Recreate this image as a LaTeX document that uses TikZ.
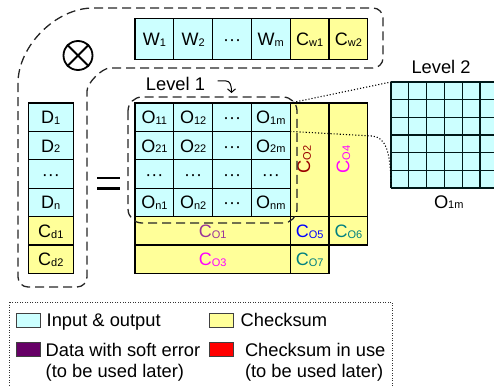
\documentclass[tikz,border=0pt]{standalone}
\usepackage{fontspec}
\setmainfont{Liberation Sans}
\usetikzlibrary{positioning,arrows.meta}

\definecolor{iocol}{HTML}{CCFFFF}
\definecolor{chkcol}{HTML}{FFFF99}
\definecolor{errcol}{HTML}{660066}
\definecolor{usecol}{HTML}{FF0000}
\definecolor{cofirst}{HTML}{993399}
\definecolor{cosecond}{HTML}{990000}
\definecolor{cothird}{HTML}{FF00FF}
\definecolor{cofifth}{HTML}{0000FF}
\definecolor{coteal}{HTML}{008080}

\newcommand{\idx}[1]{\raisebox{-0.8pt}{\fontsize{11}{11}\selectfont #1}}

\tikzset{
  cell/.style={draw, line width=1.1pt, inner sep=0pt, outer sep=0pt,
    minimum width=38.8pt, minimum height=28.4pt,
    text height=12.9pt, text depth=0pt, font=\fontsize{18}{20}\selectfont},
  io/.style={cell, fill=iocol},
  chk/.style={cell, fill=chkcol},
  wcell/.style={minimum height=40.8pt},
  dcell/.style={minimum width=45pt},
  dashbox/.style={line width=1.3pt, dash pattern=on 9pt off 5pt, black!85},
  dotline/.style={line width=1.1pt, dash pattern=on 1.1pt off 2pt},
  lbl/.style={inner sep=0pt, outer sep=0pt, font=\fontsize{18.3}{20}\selectfont},
  swatch/.style={draw=black!75, line width=1pt, minimum width=24pt, minimum height=14.5pt, inner sep=0pt},
}

\begin{document}
\begin{tikzpicture}[x=1pt,y=-1pt]
\useasboundingbox (0,0) rectangle (494,385);

% outer dashed region
\draw[dashbox, rounded corners=10pt] (18,200) -- (18,93) .. controls (18,46) and (56,8) .. (103,8)
  -- (383,8) -- (383,68) -- (120,68) .. controls (102,68) and (87,83) .. (87,101)
  -- (87,287) -- (18,287) -- cycle;

% otimes
\node[circle, draw, line width=1.8pt, minimum size=29pt, inner sep=0pt] (prod) at (78,55.5) {};
\draw[line width=1.8pt] (prod.45) -- (prod.225) (prod.135) -- (prod.315);

% weight row
\node[io, wcell] (w1) at (154.4,38.8) {W\idx{1}};
\node[io, wcell, right=0pt of w1] (w2) {W\idx{2}};
\node[io, wcell, right=0pt of w2] (wdots) {···};
\node[io, wcell, right=0pt of wdots] (wm) {W\idx{m}};
\node[chk, wcell, right=0pt of wm] (cw1) {C\idx{w1}};
\node[chk, wcell, right=0pt of cw1] (cw2) {C\idx{w2}};

% data column
\node[io, dcell] (d1) at (50.8,117.2) {D\idx{1}};
\node[io, dcell, below=0pt of d1] (d2) {D\idx{2}};
\node[io, dcell, below=0pt of d2] (ddots) {···};
\node[io, dcell, below=0pt of ddots] (dn) {D\idx{n}};
\node[chk, dcell, below=0pt of dn] (cd1) {C\idx{d1}};
\node[chk, dcell, below=0pt of cd1] (cd2) {C\idx{d2}};

% equals
\draw[line width=2.8pt] (97,178) -- (120,178) (97,188.5) -- (120,188.5);

% output block
\node[io] (o11) at (154.4,117.2) {O\idx{11}};
\node[io, right=0pt of o11] (o12) {O\idx{12}};
\node[io, right=0pt of o12] (o1d) {···};
\node[io, right=0pt of o1d] (o1m) {O\idx{1m}};
\node[io, below=0pt of o11] (o21) {O\idx{21}};
\node[io, right=0pt of o21] (o22) {O\idx{22}};
\node[io, right=0pt of o22] (o2d) {···};
\node[io, right=0pt of o2d] (o2m) {O\idx{2m}};
\node[io, below=0pt of o21] (od1) {···};
\node[io, right=0pt of od1] (od2) {···};
\node[io, right=0pt of od2] (odd) {···};
\node[io, right=0pt of odd] (odm) {···};
\node[io, below=0pt of od1] (on1) {O\idx{n1}};
\node[io, right=0pt of on1] (on2) {O\idx{n2}};
\node[io, right=0pt of on2] (ond) {···};
\node[io, right=0pt of ond] (onm) {O\idx{nm}};

% output checksums
\node[chk, minimum height=113.6pt, anchor=north west] (co2) at (o1m.north east) {};
\node[chk, minimum height=113.6pt, anchor=north west] (co4) at (co2.north east) {};
\node[lbl, rotate=90, anchor=base, text=cosecond] (co2txt) at ([xshift=0.5pt]co2.center) {C\idx{O2}};
\node[lbl, rotate=90, anchor=base, text=cothird] (co4txt) at ([xshift=1pt]co4.center) {C\idx{O4}};
\node[chk, minimum width=155.2pt, anchor=north west, text=cofirst] (co1) at (on1.south west) {C\idx{O1}};
\node[chk, anchor=north west, text=cofifth] (co5) at (co1.north east) {C\idx{O5}};
\node[chk, anchor=north west, text=coteal] (co6) at (co5.north east) {C\idx{O6}};
\node[chk, minimum width=155.2pt, anchor=north west, text=cothird] (co3) at (co1.south west) {C\idx{O3}};
\node[chk, anchor=north west, text=coteal] (co7) at (co3.north east) {C\idx{O7}};

% level 1
\draw[dashbox, rounded corners=14pt] (128,97) rectangle (297,223);
\node[lbl, anchor=base] (lvl1) at (175.5,90) {Level 1};
\coordinate (lvl1tip) at (231.5,93);
\draw[line width=1pt, -{Straight Barb[length=3.5pt,width=8pt]}] ([xshift=12.5pt,yshift=2.5pt]lvl1.east)
  -- (226,81) .. controls (230,81) and (231.5,85) .. (lvl1tip);

% level 2
\fill[iocol] (391,82) rectangle (500,188);
\foreach \i in {0,...,6}
  \draw[line width=1.2pt, black!80!teal] ({391+17.8*\i},82) -- ({391+17.8*\i},188);
\foreach \j in {0,...,6}
  \draw[line width=1.2pt, black!80!teal] (391,{82+17.667*\j}) -- (500,{82+17.667*\j});
\coordinate (l2nw) at (391,82);
\coordinate (l2sw) at (391,188);
\node[lbl, anchor=base] (lvl2) at (441,74) {Level 2};
\node[lbl, anchor=base west] (o1mlbl) at (434,208) {O\idx{1m}};

\draw[dotline] (o1m.north east) -- (l2nw);
\draw[dotline] (o1m.south east) -- (372,136) .. controls (385,137) and (391,150) .. (l2sw);

% legend
\draw[line width=1pt, dash pattern=on 1pt off 1.5pt, black!80] (9,302) rectangle (392,400);
\node[swatch, fill=iocol] (swio) at (28,320.5) {};
\node[lbl, anchor=base west] (txtio) at (46.7,326.7) {Input \& output};
\node[swatch, fill=chkcol] (swchk) at (221.7,320.5) {};
\node[lbl, anchor=base west] (txtchk) at (240.7,326.7) {Checksum};
\node[swatch, fill=errcol] (swerr) at (28,349.5) {};
\node[lbl, anchor=base west] (txterr) at (45.7,356) {Data with soft error};
\node[lbl, anchor=base west] (txterrb) at (45.7,377.7) {(to be used later)};
\node[swatch, fill=usecol] (swuse) at (221.7,349.5) {};
\node[lbl, anchor=base west] (txtuse) at (245,356) {Checksum in use};
\node[lbl, anchor=base west] (txtuseb) at (245,377.7) {(to be used later)};
\end{tikzpicture}
\end{document}
